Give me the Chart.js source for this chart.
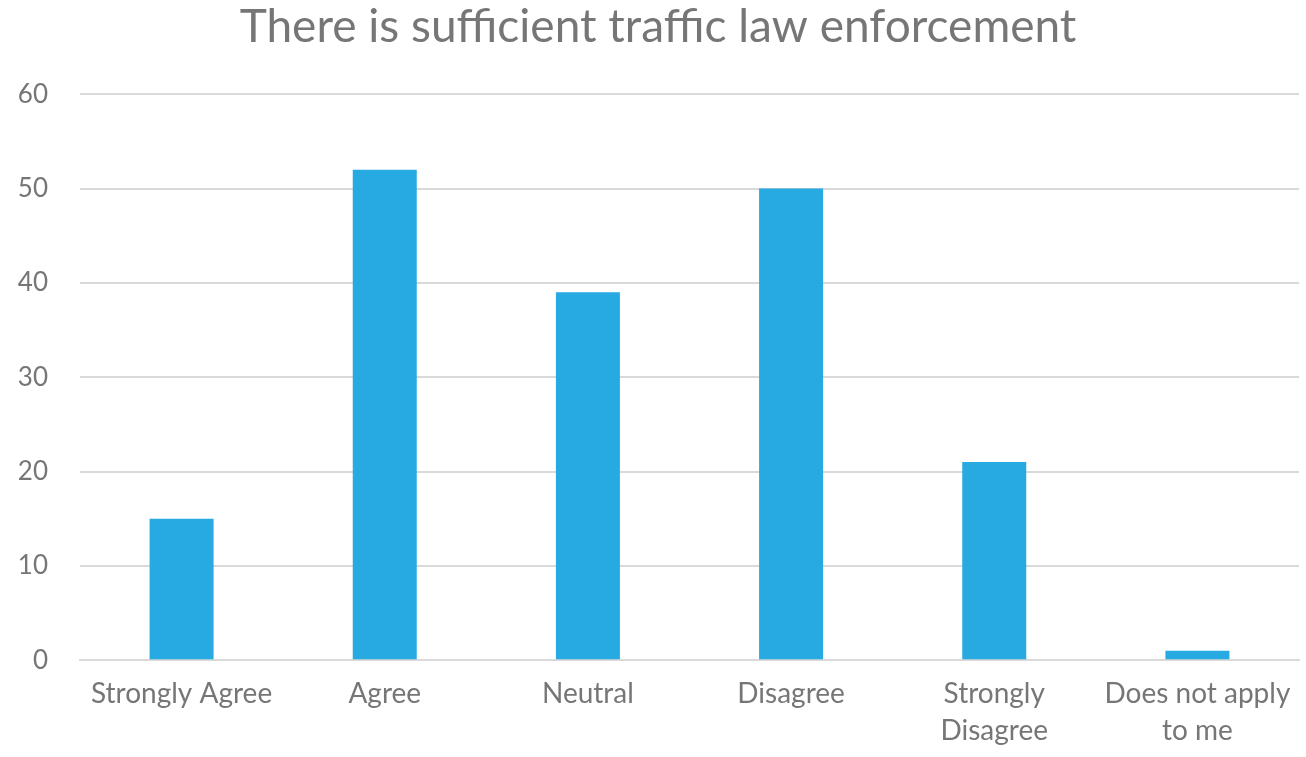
<!DOCTYPE html>
<html>
<head>
<meta charset="utf-8">
<script src="https://cdn.jsdelivr.net/npm/chart.js@4"></script>
<style>
  html, body { margin: 0; padding: 0; background: #fff; }
  #wrap { width: 1306px; height: 757px; }
</style>
</head>
<body>
<div id="wrap"><canvas id="canvas"></canvas></div>
<script>
const categories = [
    'Strongly Agree',
    'Agree',
    'Neutral',
    'Disagree',
    ['Strongly', 'Disagree'],
    ['Does not apply', 'to me']
];
const responses = [15, 52, 39, 50, 21, 1];
const yTicks = [0, 10, 20, 30, 40, 50, 60];

const textGray = '#767676';
const gridGray = '#d9d9d9';
const barBlue = '#27a9e1';

Chart.defaults.font.family = 'Lato, "Open Sans", sans-serif';
Chart.defaults.color = textGray;

const ctx = document.getElementById('canvas').getContext('2d');
new Chart(ctx, {
    type: 'bar',
    data: {
        labels: categories,
        datasets: [{
            data: responses,
            backgroundColor: barBlue,
            categoryPercentage: 1,
            barPercentage: 0.315
        }]
    },
    options: {
        responsive: true,
        maintainAspectRatio: false,
        animation: false,
        layout: {
            padding: { left: 17, right: 7, top: 0, bottom: 0 }
        },
        plugins: {
            legend: { display: false },
            tooltip: { enabled: false },
            title: {
                display: true,
                text: 'There is sufficient traffic law enforcement',
                color: textGray,
                font: { size: 46, weight: 'normal' },
                padding: { top: 0, bottom: 39 }
            }
        },
        scales: {
            x: {
                grid: { display: false },
                border: { display: true, color: gridGray, width: 2 },
                ticks: {
                    color: textGray,
                    font: { size: 28, lineHeight: 1.3 },
                    maxRotation: 0,
                    autoSkip: false,
                    padding: 8
                },
                // keep the long end labels from pushing the plot inward
                afterFit: axis => {
                    axis.paddingLeft = 0;
                    axis.paddingRight = 0;
                }
            },
            y: {
                min: yTicks[0],
                max: yTicks[yTicks.length - 1],
                afterBuildTicks: axis => {
                    axis.ticks = yTicks.map(v => ({ value: v }));
                },
                afterFit: axis => {
                    axis.width = 63;
                },
                grid: { color: gridGray, lineWidth: 2, drawTicks: false },
                border: { display: false },
                ticks: {
                    color: textGray,
                    font: { size: 26 },
                    padding: 32
                }
            }
        }
    }
});
</script>
</body>
</html>
